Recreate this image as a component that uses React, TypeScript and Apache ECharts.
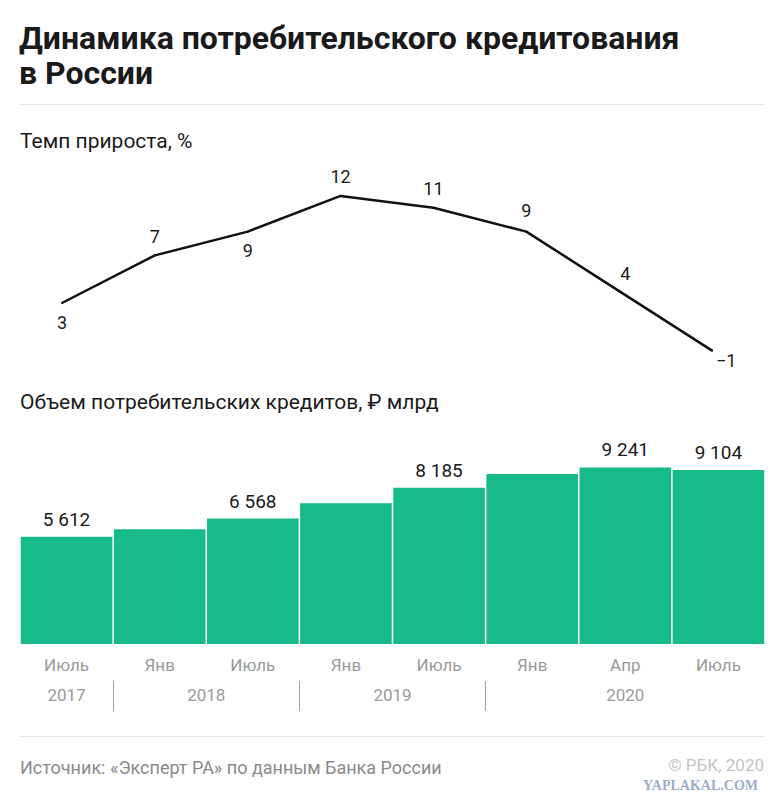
import React, { useEffect, useRef } from "react";
import * as echarts from "echarts";

const months = ["Июль", "Янв", "Июль", "Янв", "Июль", "Янв", "Апр", "Июль"];
const growth = [3, 7, 9, 12, 11, 9, 4, -1];
const volume = [5612, 6005, 6568, 7366, 8185, 8900, 9241, 9104];
const volumeLabelled = [true, false, true, false, true, false, true, true];
const years = ["2017", "2018", "2019", "2020"];
const yearCenters = [0.5, 2, 4, 6.5];
const yearBreaks = [1, 3, 5];

const FONT = "Roboto, 'Noto Sans', sans-serif";
const GREEN = "#17bb89";

const fmtThousands = (v: number) =>
  String(v).replace(/\B(?=(\d{3})+(?!\d))/g, " ");

export default function App() {
  const ref = useRef<HTMLDivElement>(null);

  useEffect(() => {
    document.body.style.margin = "0";
    const chart = echarts.init(ref.current!, null, { renderer: "svg" });

    const growthPlacement: any[] = [
      { position: "bottom", distance: 9 },
      { position: "top", distance: 9 },
      { position: "bottom", distance: 9 },
      { position: "top", distance: 9 },
      { position: "top", distance: 9 },
      { position: "top", distance: 11 },
      { position: "top", distance: 8, offset: [6, 0] },
      { position: "right", distance: 3, offset: [0, 10] },
    ];

    const option: any = {
      animation: false,
      backgroundColor: "#ffffff",
      textStyle: { fontFamily: FONT },
      graphic: [
        {
          type: "text",
          left: 19,
          top: 20,
          style: {
            text: "Динамика потребительского кредитования\nв России",
            fontFamily: FONT,
            fontSize: 32,
            fontWeight: "bold",
            lineHeight: 35,
            fill: "#1a1a1a",
          },
        },
        {
          type: "line",
          shape: { x1: 20, y1: 104.5, x2: 765, y2: 104.5 },
          style: { stroke: "#e4e4e4", lineWidth: 1 },
        },
        {
          type: "text",
          left: 20,
          top: 130,
          style: {
            text: "Темп прироста, %",
            fontFamily: FONT,
            fontSize: 21,
            fill: "#1a1a1a",
          },
        },
        {
          type: "text",
          left: 20,
          top: 391,
          style: {
            text: "Объем потребительских кредитов, ₽ млрд",
            fontFamily: FONT,
            fontSize: 21,
            fill: "#1a1a1a",
          },
        },
        {
          type: "line",
          shape: { x1: 20, y1: 736.5, x2: 765, y2: 736.5 },
          style: { stroke: "#e4e4e4", lineWidth: 1 },
        },
        {
          type: "text",
          left: 20,
          top: 758,
          style: {
            text: "Источник: «Эксперт РА» по данным Банка России",
            fontFamily: FONT,
            fontSize: 18,
            fill: "#8a8a8a",
          },
        },
        {
          type: "text",
          right: 20,
          top: 756,
          style: {
            text: "© РБК, 2020",
            fontFamily: FONT,
            fontSize: 17,
            fill: "#c4c4c4",
          },
        },
        {
          type: "text",
          right: 26,
          top: 778,
          style: {
            text: "YAPLAKAL.COM",
            fontFamily: "'Liberation Serif', 'DejaVu Serif', serif",
            fontSize: 14,
            fontWeight: "bold",
            fill: "rgba(120,145,180,0.75)",
          },
        },
      ],
      grid: [
        { left: 15.5, right: 25.5, top: 184, bottom: 437.5 },
        { left: 20, right: 19, top: 453, bottom: 156 },
      ],
      xAxis: [
        {
          type: "category",
          gridIndex: 0,
          data: months,
          boundaryGap: true,
          show: false,
        },
        {
          type: "category",
          gridIndex: 1,
          data: months,
          boundaryGap: true,
          axisLine: { show: false },
          axisTick: { show: false },
          axisLabel: {
            color: "#9a9a9a",
            fontFamily: FONT,
            fontSize: 17,
            margin: 12,
          },
        },
        {
          type: "value",
          gridIndex: 1,
          position: "bottom",
          offset: 37,
          min: 0,
          max: 8,
          axisLine: { show: false },
          splitLine: { show: false },
          axisTick: {
            show: true,
            customValues: yearBreaks,
            length: 30,
            lineStyle: { color: "#a0a0a0", width: 1 },
          },
          axisLabel: {
            show: true,
            customValues: yearCenters,
            formatter: (v: number) => {
              const i = yearCenters.indexOf(v);
              return i >= 0 ? years[i] : "";
            },
            color: "#9a9a9a",
            fontFamily: FONT,
            fontSize: 17,
            margin: 5,
          },
        },
      ],
      yAxis: [
        { type: "value", gridIndex: 0, min: -2, max: 13, show: false },
        { type: "value", gridIndex: 1, min: 0, max: 10000, show: false },
      ],
      series: [
        {
          type: "line",
          xAxisIndex: 0,
          yAxisIndex: 0,
          data: growth.map((v, i) => ({
            value: v,
            label: { show: true, ...growthPlacement[i] },
          })),
          symbol: "circle",
          symbolSize: 2,
          itemStyle: { color: "#111111" },
          lineStyle: { color: "#111111", width: 2.5 },
          label: {
            show: true,
            color: "#1a1a1a",
            fontFamily: FONT,
            fontSize: 18,
            formatter: (p: any) =>
              p.value < 0 ? "−" + Math.abs(p.value) : String(p.value),
          },
        },
        {
          type: "bar",
          xAxisIndex: 1,
          yAxisIndex: 1,
          barCategoryGap: "1.6%",
          itemStyle: { color: GREEN },
          data: volume.map((v, i) => ({
            value: v,
            label: { show: volumeLabelled[i] },
          })),
          label: {
            position: "top",
            distance: 8,
            color: "#1a1a1a",
            fontFamily: FONT,
            fontSize: 19,
            formatter: (p: any) => fmtThousands(p.value),
          },
        },
      ],
    };

    chart.setOption(option);
    return () => chart.dispose();
  }, []);

  return <div ref={ref} style={{ width: 784, height: 800 }} />;
}
